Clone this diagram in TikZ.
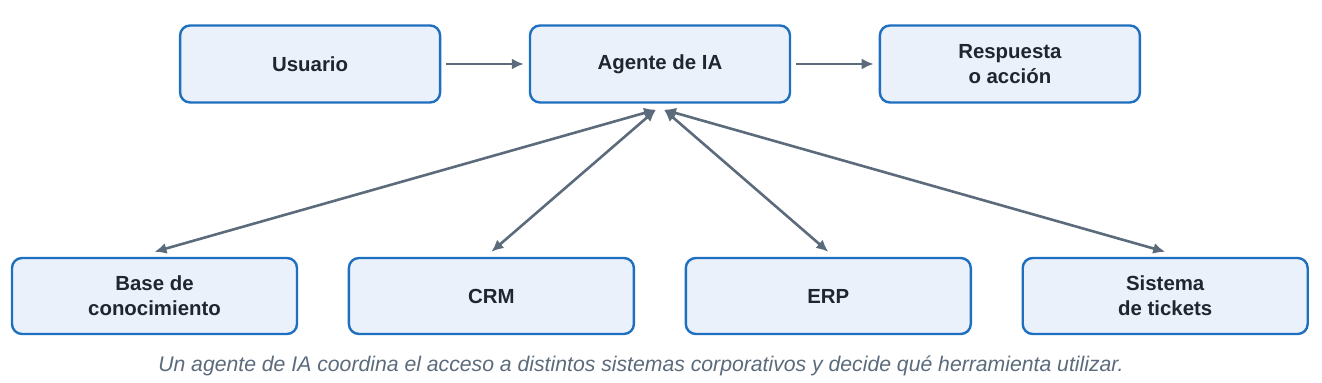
\documentclass[tikz,border=0pt]{standalone}
\usepackage{fontspec}
\setmainfont{Liberation Sans}
\usetikzlibrary{arrows.meta,calc,positioning}
\definecolor{boxblue}{HTML}{1F6FBF}
\definecolor{boxfill}{HTML}{EAF1FA}
\definecolor{slate}{HTML}{5B6B7B}
\definecolor{ink}{HTML}{1F2630}

\begin{document}
\begin{tikzpicture}[x=0.5pt, y=-0.5pt,
  flowbox/.style={draw=boxblue, line width=1.2pt, rounded corners=5pt, fill=boxfill,
    minimum width=130pt, minimum height=38.5pt, align=center, text=ink,
    font=\fontsize{10.2}{12.6}\selectfont\bfseries},
  sysbox/.style={flowbox, minimum width=142.5pt, minimum height=38pt},
  arrow/.style={-{Latex[length=6pt, width=5.5pt]}, line width=1.3pt, draw=slate,
    shorten <=2.5pt, shorten >=2.5pt},
  biarrow/.style={{Latex[length=6pt, width=5.5pt]}-{Latex[length=6pt, width=5.5pt]},
    line width=1.3pt, draw=slate}
]
\useasboundingbox (0,0) rectangle (1322,383);
\node[flowbox] (agent) at (660,64) {Agente de IA};
\node[flowbox, left=43.75pt of agent] (user) {Usuario};
\node[flowbox, right=43.75pt of agent] (reply) {Respuesta\\o acción};
\draw[arrow] (user) -- (agent);
\draw[arrow] (agent) -- (reply);
\node[sysbox] (kb) at (154.5,296) {Base de\\conocimiento};
\node[sysbox, right=24.75pt of kb] (crm) {CRM};
\node[sysbox, right=24.75pt of crm] (erp) {ERP};
\node[sysbox, right=24.75pt of erp] (tickets) {Sistema\\de tickets};
\coordinate (agentL) at ($(agent.south)+(-2pt,-3pt)$);
\coordinate (agentR) at ($(agent.south)+(2pt,-3pt)$);
\draw[biarrow] (agentL) -- ([yshift=2.5pt]kb.north);
\draw[biarrow] (agentL) -- ([yshift=2.5pt]crm.north);
\draw[biarrow] (agentR) -- ([yshift=2.5pt]erp.north);
\draw[biarrow] (agentR) -- ([yshift=2.5pt]tickets.north);
\node[font=\fontsize{10.6}{13}\selectfont\itshape, text=slate] (caption) at (641,366)
  {Un agente de IA coordina el acceso a distintos sistemas corporativos y decide qué herramienta utilizar.};
\end{tikzpicture}
\end{document}
